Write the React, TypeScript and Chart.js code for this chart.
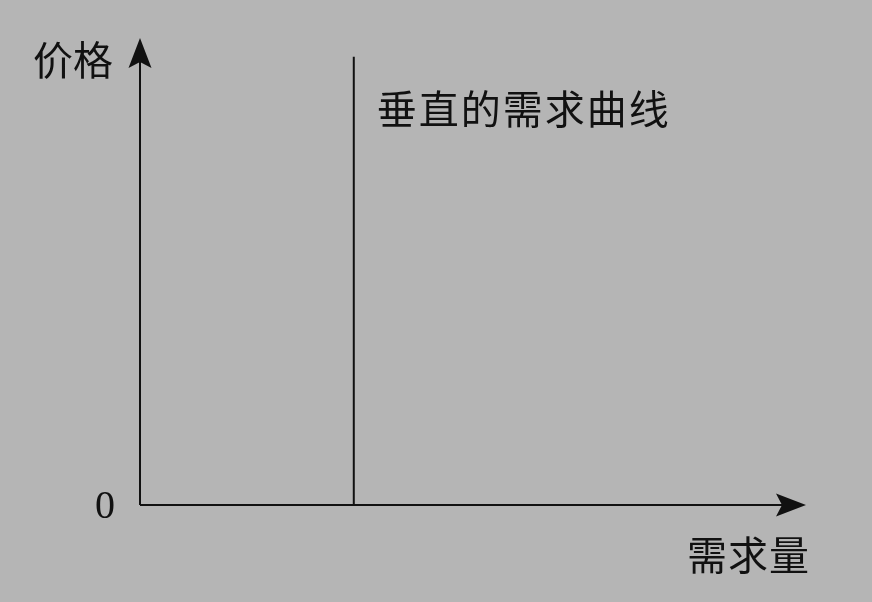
import React, { useEffect, useRef } from "react";
import { Chart, registerables } from "chart.js";

Chart.register(...registerables);

// Data
const quantityRange = [0, 10];
const priceRange = [0, 10];
const demandQuantity = 3.21;
const demandPrices = [0, 9.6];
const yAxisTitle = "价格";
const xAxisTitle = "需求量";
const curveLabel = "垂直的需求曲线";
const originLabel = "0";

const BG = "#b5b5b5";
const INK = "#111111";

const axesPlugin = {
  id: "econAxes",
  beforeDraw(chart: any) {
    const { ctx, width, height } = chart;
    ctx.save();
    ctx.fillStyle = BG;
    ctx.fillRect(0, 0, width, height);
    ctx.restore();
  },
  afterDatasetsDraw(chart: any) {
    const { ctx } = chart;
    const xs = chart.scales.x;
    const ys = chart.scales.y;
    const x0 = xs.getPixelForValue(quantityRange[0]);
    const x1 = xs.getPixelForValue(quantityRange[1]);
    const y0 = ys.getPixelForValue(priceRange[0]);
    const y1 = ys.getPixelForValue(priceRange[1]);
    ctx.save();
    ctx.strokeStyle = INK;
    ctx.fillStyle = INK;
    ctx.lineWidth = 2;
    // y axis
    ctx.beginPath();
    ctx.moveTo(x0, y0);
    ctx.lineTo(x0, y1 + 20);
    ctx.stroke();
    // x axis
    ctx.beginPath();
    ctx.moveTo(x0, y0);
    ctx.lineTo(x1 - 20, y0);
    ctx.stroke();
    // y arrow
    const L = 30, W = 11.5, N = 6;
    ctx.beginPath();
    ctx.moveTo(x0, y1);
    ctx.lineTo(x0 + W, y1 + L);
    ctx.lineTo(x0, y1 + L - N);
    ctx.lineTo(x0 - W, y1 + L);
    ctx.closePath();
    ctx.fill();
    // x arrow
    ctx.beginPath();
    ctx.moveTo(x1, y0);
    ctx.lineTo(x1 - L, y0 - W);
    ctx.lineTo(x1 - L + N, y0);
    ctx.lineTo(x1 - L, y0 + W);
    ctx.closePath();
    ctx.fill();

    // labels
    ctx.textBaseline = "middle";
    ctx.font = '40px "Noto Sans CJK SC", sans-serif';
    ctx.textAlign = "right";
    ctx.fillText(yAxisTitle, x0 - 27, y1 + 22);
    ctx.textAlign = "left";
    const lx = xs.getPixelForValue(demandQuantity);
    ctx.font = '40px "Noto Sans CJK SC", sans-serif';
    (ctx as any).letterSpacing = "2px";
    ctx.fillText(curveLabel, lx + 23, ys.getPixelForValue(demandPrices[1]) + 52);
    (ctx as any).letterSpacing = "1px";
    ctx.textAlign = "right";
    ctx.fillText(xAxisTitle, x1 + 4, y0 + 50);
    (ctx as any).letterSpacing = "0px";
    ctx.font = '40px "Liberation Serif", serif';
    ctx.textAlign = "center";
    ctx.fillText(originLabel, x0 - 35, y0 + 2);
    ctx.restore();
  },
};

export default function App() {
  const ref = useRef<HTMLCanvasElement | null>(null);
  useEffect(() => {
    if (!ref.current) return;
    const chart = new Chart(ref.current, {
      type: "line",
      data: {
        datasets: [
          {
            label: curveLabel,
            data: demandPrices.map((p) => ({ x: demandQuantity, y: p })),
            borderColor: INK,
            borderWidth: 2,
            pointRadius: 0,
            fill: false,
          },
        ],
      },
      options: {
        animation: false,
        responsive: false,
        layout: { padding: { left: 140, right: 66, top: 38, bottom: 97 } },
        plugins: { legend: { display: false }, tooltip: { enabled: false } },
        scales: {
          x: { type: "linear", min: quantityRange[0], max: quantityRange[1], display: false },
          y: { type: "linear", min: priceRange[0], max: priceRange[1], display: false },
        },
      },
      plugins: [axesPlugin],
    });
    return () => chart.destroy();
  }, []);
  return (
    <div style={{ position: "fixed", left: 0, top: 0, width: 872, height: 602, background: BG }}>
      <canvas ref={ref} width={872} height={602} style={{ display: "block" }} />
    </div>
  );
}
